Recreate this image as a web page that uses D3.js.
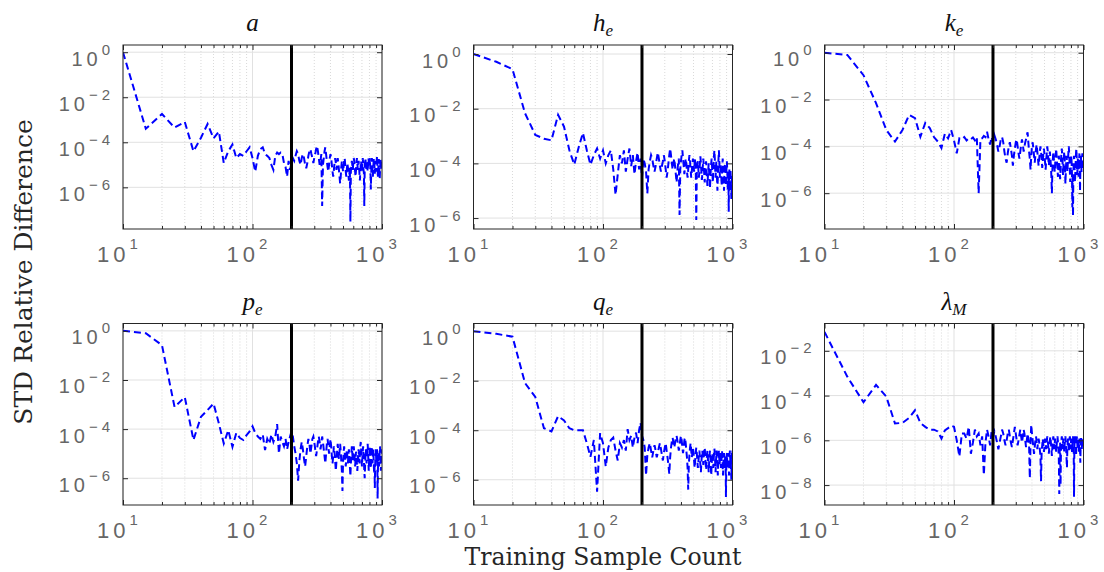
<!DOCTYPE html>
<html>
<head>
<meta charset="utf-8">
<script src="https://cdn.jsdelivr.net/npm/d3@7"></script>
<style>
  body { margin: 0; background: #fff; }
</style>
</head>
<body>
<svg id="chart"></svg>
<script>
const width = 1104;
const height = 572;

// training sample counts (x)
const sampleCounts = [
  10, 15, 20, 25, 30, 35, 40, 45, 50, 55, 60, 65, 70, 75, 80, 85, 90, 95, 100, 105,
  110, 115, 120, 125, 130, 135, 140, 145, 150, 155, 160, 165, 170, 175, 180, 185, 190, 195, 200, 205,
  210, 215, 220, 225, 230, 235, 240, 245, 250, 255, 260, 265, 270, 275, 280, 285, 290, 295, 300, 305,
  310, 315, 320, 325, 330, 335, 340, 345, 350, 355, 360, 365, 370, 375, 380, 385, 390, 395, 400, 405,
  410, 415, 420, 425, 430, 435, 440, 445, 450, 455, 460, 465, 470, 475, 480, 485, 490, 495, 500, 505,
  510, 515, 520, 525, 530, 535, 540, 545, 550, 555, 560, 565, 570, 575, 580, 585, 590, 595, 600, 605,
  610, 615, 620, 625, 630, 635, 640, 645, 650, 655, 660, 665, 670, 675, 680, 685, 690, 695, 700, 705,
  710, 715, 720, 725, 730, 735, 740, 745, 750, 755, 760, 765, 770, 775, 780, 785, 790, 795, 800, 805,
  810, 815, 820, 825, 830, 835, 840, 845, 850, 855, 860, 865, 870, 875, 880, 885, 890, 895, 900, 905,
  910, 915, 920, 925, 930, 935, 940, 945, 950, 955, 960, 965, 970, 975, 980, 985, 990, 995, 1000
];

const aVals = [
  1, 4e-4, 1.8e-3, 4.5e-4, 8e-4, 4e-5, 1.6e-4, 6.5e-4, 1.5e-4, 3e-4,
  1.2e-5, 4e-5, 8e-5, 2e-5, 3e-5, 2.5e-5, 4e-5, 6e-5, 2e-5, 5e-6,
  2.5e-5, 5e-5, 6e-5, 3e-5, 2.5e-5, 2e-5, 1e-5, 6e-6, 2.5e-5, 3.5e-5,
  3e-5, 3.5e-5, 3e-5, 1.2e-5, 8e-6, 3e-6, 1.5e-5, 6e-6, 1.2e-5,
  2e-5, 1.5e-5, 2.5e-5, 4e-5, 3e-5, 1.5e-5, 1e-5, 2e-5, 3e-5, 2e-5,
  1e-5, 7e-6, 1.2e-5, 2.5e-5, 4e-5, 5e-5, 3e-5, 2e-5, 1.2e-5, 2e-5,
  3e-5, 5e-5, 7e-5, 4e-5, 2e-5, 1e-5, 1.5e-5, 3e-5, 1.5e-7, 1e-5,
  2e-5, 4e-5, 6e-5, 3e-5, 1.5e-5, 8e-6, 5e-6, 1e-5, 2e-5, 3e-5,
  2e-5, 1e-5, 5e-6, 3e-6, 6e-6, 1.2e-5, 2e-5, 1.2e-5, 6e-6, 1e-5,
  2e-5, 1.2e-5, 6e-6, 3e-6, 1.5e-6, 3e-6, 8e-6, 1.5e-5, 1e-5, 5e-6,
  8e-6, 1.5e-5, 2e-5, 1e-5, 5e-6, 3e-6, 6e-6, 1.2e-5, 8e-6, 4e-6,
  2e-6, 4e-6, 8e-6, 3e-8, 5e-6, 1e-5, 1.5e-5, 1e-5, 6e-6, 1.2e-5,
  2e-5, 1.5e-5, 8e-6, 5e-6, 3e-6, 6e-6, 1.2e-5, 2e-5, 1.2e-5, 6e-6,
  1e-5, 1.5e-5, 8e-6, 4e-6, 2e-6, 5e-6, 1e-5, 1.5e-5, 8e-6, 5e-6,
  1e-5, 2e-5, 1.2e-5, 6e-6, 4e-6, 1.5e-7, 6e-6, 1.2e-5, 2e-5, 1e-5,
  6e-6, 1e-5, 1.5e-5, 8e-6, 5e-6, 1e-5, 2e-5, 1.5e-5, 8e-6, 1.2e-5,
  2e-5, 1e-5, 5e-6, 8e-7, 4e-6, 1e-5, 2e-5, 1.2e-5, 6e-6, 3e-6,
  6e-6, 1.2e-5, 2e-5, 1.5e-5, 8e-6, 4e-6, 8e-6, 1.5e-5, 1e-5, 5e-6,
  8e-6, 1.5e-5, 2.5e-5, 1.2e-5, 6e-6, 3e-6, 6e-6, 1.2e-5, 1.8e-5, 1e-5,
  5e-6, 2.5e-6, 5e-6, 1e-5, 2e-5, 1.2e-5, 6e-6, 1e-5, 1.5e-5, 1e-5
];

const heVals = [
  1, 0.52, 0.28, 6.8e-3, 1.1e-3, 8e-4, 7e-4, 6e-3, 2.2e-3, 3e-4,
  9e-5, 4e-4, 1.3e-3, 3e-4, 9e-5, 2e-4, 3.5e-4, 1.5e-4, 3e-4, 1e-4,
  2e-4, 3e-4, 6e-5, 7e-6, 4e-5, 2e-4, 1e-4, 3e-4, 5e-5, 1.5e-4,
  3.5e-4, 8e-5, 2e-4, 4e-5, 1.2e-4, 2.5e-4, 6e-5, 1.5e-4, 3e-5,
  1.5e-4, 1e-4, 5e-5, 8e-6, 6e-5, 1.2e-4, 2e-4, 1.5e-4, 8e-5, 5e-5,
  8e-5, 1.5e-4, 2.5e-4, 1.5e-4, 8e-5, 5e-5, 8e-5, 1.2e-4, 2e-4, 1.2e-4,
  6e-5, 3e-5, 5e-5, 1e-4, 2e-4, 3.5e-4, 2e-4, 1e-4, 6e-5, 1e-4,
  1.5e-4, 8e-5, 4e-5, 2e-5, 5e-5, 1e-4, 1.5e-4, 1.3e-6, 6e-5, 1.2e-4,
  2e-4, 3e-4, 1.5e-4, 8e-5, 4e-5, 8e-5, 1.5e-4, 1e-4, 5e-5, 3e-5,
  6e-5, 1.2e-4, 2e-4, 1.2e-4, 6e-5, 3e-5, 5e-5, 1e-4, 1.5e-4, 8e-5,
  5e-5, 1e-4, 1.5e-4, 8e-5, 8.5e-7, 4e-5, 8e-5, 1.2e-4, 6e-5, 3e-5,
  5e-5, 1e-4, 1.8e-4, 1e-4, 5e-5, 2.5e-5, 4e-5, 8e-5, 1.5e-4, 8e-5,
  4e-5, 2e-5, 4e-5, 8e-5, 1.2e-4, 6e-5, 3e-5, 1.5e-5, 3e-5, 6e-5,
  1e-4, 5e-5, 2.5e-5, 1.2e-5, 3e-5, 6e-5, 1e-4, 1.5e-4, 8e-5, 4e-5,
  2e-5, 5e-5, 1e-4, 2e-4, 3e-4, 1.5e-4, 6e-5, 3e-5, 6e-5, 1.2e-4,
  6e-5, 2.5e-5, 1e-5, 3e-5, 8e-5, 1.5e-4, 3e-4, 1.5e-4, 6e-5, 3e-5,
  5e-5, 1e-4, 6e-5, 3e-5, 1.5e-5, 4e-5, 8e-5, 1.5e-4, 8e-5, 4e-5,
  2e-5, 1e-5, 3e-5, 6e-5, 1e-4, 6e-5, 3e-5, 1.5e-5, 4e-5, 8e-5,
  1.2e-4, 6e-5, 3e-5, 1e-5, 2.5e-5, 5e-5, 1.7e-6, 3e-5, 6e-5, 2.5e-5,
  1e-5, 3e-5, 6e-5, 3e-5, 1.2e-5, 5e-6, 1.5e-5, 4e-5, 2e-5, 8e-6
];

const keVals = [
  1, 0.8, 0.11, 7e-3, 5e-4, 1.6e-4, 5e-4, 2.2e-3, 1.6e-3, 2.6e-4,
  1e-3, 6e-4, 2.5e-4, 1.6e-4, 8.5e-5, 3.5e-4, 2.2e-4, 5e-4, 1.8e-4, 5e-5,
  2.2e-4, 2e-4, 2.5e-4, 1.8e-4, 2.2e-4, 2e-4, 2.4e-4, 1.8e-4, 2.5e-4, 1e-6,
  2e-4, 2.2e-4, 2.8e-4, 2.5e-4, 4.2e-4, 2e-4, 1.2e-4, 2.5e-4, 1.5e-4,
  3e-4, 2e-4, 1.2e-4, 6e-5, 1e-4, 2e-4, 2.5e-4, 1.5e-4, 6e-5, 3e-5,
  2e-5, 5e-5, 1e-4, 1.5e-4, 8e-5, 4e-5, 1.5e-5, 4e-5, 8e-5, 1.5e-4,
  2e-4, 1e-4, 5e-5, 3e-5, 6e-5, 1.2e-4, 2e-4, 1.2e-4, 6e-5, 1e-4,
  1.5e-4, 2e-4, 3e-4, 4e-4, 1.5e-4, 6e-5, 3e-5, 1e-5, 4e-5, 1e-4,
  1.5e-4, 8e-5, 4e-5, 2e-5, 4e-5, 8e-5, 1.2e-4, 6e-5, 3e-5, 1.5e-5,
  3e-5, 6e-5, 1e-4, 6e-5, 3e-5, 1.2e-5, 2.5e-5, 5e-5, 8e-5, 4e-5,
  2e-5, 1e-5, 2.5e-5, 5e-5, 1e-4, 6e-5, 3e-5, 1.5e-5, 3e-5, 6e-5,
  3e-5, 1.5e-5, 5e-6, 1e-6, 1e-5, 3e-5, 6e-5, 3e-5, 1.5e-5, 8e-6,
  2e-5, 4e-5, 8e-5, 4e-5, 2e-5, 1e-5, 5e-6, 1.5e-5, 4e-5, 2e-5,
  8e-6, 4e-6, 1e-5, 2.5e-5, 5e-5, 8e-5, 4e-5, 1.5e-5, 6e-6, 1.5e-5,
  3e-5, 6e-5, 3e-5, 1.2e-5, 2.5e-6, 8e-6, 2e-5, 4e-5, 2e-5, 8e-6,
  1.5e-5, 3e-5, 6e-5, 1e-4, 5e-5, 2e-5, 8e-6, 3e-6, 8e-6, 2e-5,
  4e-5, 2e-5, 6e-6, 2.5e-7, 5e-6, 1e-7, 8e-6, 2e-5, 4e-5, 2e-5,
  8e-6, 3e-6, 8e-6, 2e-5, 5e-5, 8e-5, 4e-5, 1.5e-5, 6e-6, 1.5e-5,
  3e-5, 1.5e-5, 5e-6, 1e-5, 2.5e-5, 5e-5, 2e-5, 1.2e-6, 8e-6, 2e-5,
  4e-5, 2e-5, 8e-6, 1.5e-5, 3e-5, 5e-5, 2.5e-5, 1.2e-5, 2e-5, 2.5e-5
];

const peVals = [
  1, 0.8, 0.26, 8e-4, 2e-3, 3.6e-5, 3.2e-4, 6e-4, 1.1e-3, 1.7e-4,
  2.6e-5, 9e-5, 1.9e-5, 7e-5, 4.3e-5, 3.6e-5, 5.7e-5, 8e-5, 1.3e-4, 7e-5,
  5e-5, 4e-5, 6e-5, 1.4e-5, 4e-5, 2.5e-5, 6e-5, 3e-5, 5e-5, 1.6e-4,
  1e-5, 5e-5, 3e-5, 2e-5, 4e-5, 1.5e-5, 3e-5, 5e-5, 8e-5,
  5e-5, 2e-5, 1e-5, 4e-6, 8e-7, 5e-6, 1.5e-5, 3e-5, 1.5e-5, 6e-6,
  3e-6, 8e-6, 2e-5, 4e-5, 2.5e-5, 1e-5, 2e-5, 4e-5, 5e-5, 3e-5,
  1.5e-5, 8e-6, 1.5e-5, 3e-5, 5e-5, 3e-5, 1.5e-5, 2.5e-5, 5e-5, 3e-5,
  1.5e-5, 8e-6, 4e-6, 1e-5, 2.5e-5, 4e-5, 2e-5, 1e-5, 2e-5, 4e-5,
  2e-5, 8e-6, 4e-6, 8e-6, 2e-5, 1.2e-5, 5e-6, 2e-6, 5e-6, 1.2e-5,
  2.5e-5, 1.2e-5, 6e-6, 1.2e-5, 2.5e-5, 1.2e-5, 5e-6, 2e-6, 3e-7, 4e-6,
  1e-5, 2e-5, 1.2e-5, 6e-6, 3e-6, 6e-6, 1.5e-5, 8e-6, 4e-6, 8e-6,
  1.5e-5, 8e-6, 3e-6, 1.2e-6, 4e-6, 1e-5, 2e-5, 1e-5, 5e-6, 1e-5,
  2e-5, 1.2e-5, 6e-6, 3e-6, 6e-6, 1.2e-5, 8e-6, 4e-6, 2e-6, 5e-6,
  1e-5, 1.5e-5, 8e-6, 4e-6, 1e-5, 2e-5, 3e-5, 1.5e-5, 6e-6, 3e-6,
  6e-6, 1.2e-5, 2e-5, 1e-5, 5e-6, 2e-6, 1e-6, 3e-6, 8e-6, 1.5e-5,
  8e-6, 4e-6, 8e-6, 1.5e-5, 2.5e-5, 1.2e-5, 5e-6, 2e-6, 5e-6, 1e-5,
  2e-5, 1e-5, 5e-6, 2.5e-6, 6e-6, 1.2e-5, 2e-5, 1e-5, 4e-6, 8e-6,
  1.5e-5, 8e-6, 3e-6, 1.5e-6, 4e-6, 4e-7, 3e-6, 8e-6, 1.5e-5, 8e-6,
  4e-6, 8e-6, 1.5e-5, 6e-6, 1.5e-7, 2e-6, 6e-6, 1.2e-5, 6e-6, 3e-6,
  6e-6, 1.2e-5, 2e-5, 1e-5, 5e-6, 2e-6, 5e-6, 1e-5, 1.5e-5, 1e-5
];

const qeVals = [
  1, 0.78, 0.6, 8e-3, 2.2e-3, 1.2e-4, 9e-5, 3.7e-4, 2.5e-4, 1.2e-4,
  1e-4, 1e-4, 1e-4, 3e-5, 8.5e-6, 4e-5, 3.3e-7, 7.6e-5, 3e-5, 3.4e-6,
  2e-5, 4e-5, 5e-5, 1.5e-5, 6e-6, 3e-5, 2e-5, 4e-5, 1.5e-5, 1.1e-4,
  4e-5, 6e-5, 2e-5, 5e-5, 8e-5, 3e-5, 1e-4, 2e-4, 6e-5,
  4e-5, 2e-5, 1.5e-6, 1e-5, 2e-5, 3e-5, 1.5e-5, 8e-6, 1.5e-5, 2.5e-5,
  1.5e-5, 8e-6, 1.2e-5, 2e-5, 3e-5, 1.8e-5, 1e-5, 6e-6, 1.2e-5, 2e-5,
  3e-5, 1.5e-5, 8e-6, 4e-6, 1.7e-6, 8e-6, 2e-5, 3.5e-5, 5e-5, 3e-5,
  2e-5, 3e-5, 5e-5, 6e-5, 4e-5, 2.5e-5, 1.5e-5, 2.5e-5, 4e-5, 6e-5,
  4e-5, 2e-5, 1.2e-5, 2e-5, 4e-5, 5e-5, 3e-5, 1.5e-5, 8e-6, 3e-6,
  4e-7, 4e-6, 1e-5, 2e-5, 3e-5, 1.5e-5, 8e-6, 1.2e-5, 2e-5, 1.2e-5,
  6e-6, 3e-6, 6e-6, 1.2e-5, 2e-5, 1.2e-5, 6e-6, 3e-6, 5e-6, 1e-5,
  1.5e-5, 8e-6, 4e-6, 2e-6, 5e-6, 1e-5, 1.5e-5, 8e-6, 4e-6, 8e-6,
  1.5e-5, 2e-5, 1e-5, 5e-6, 2.5e-6, 5e-6, 1e-5, 1.5e-5, 8e-6, 4e-6,
  2e-6, 5e-6, 1e-5, 1.5e-5, 8e-6, 4e-6, 1.5e-6, 4e-6, 8e-6, 1.2e-5,
  6e-6, 3e-6, 6e-6, 1.2e-5, 1.8e-5, 1e-5, 5e-6, 2e-6, 5e-6, 1e-5,
  1.5e-5, 8e-6, 4e-6, 1.5e-6, 4e-6, 8e-6, 1.5e-5, 8e-6, 4e-6, 8e-6,
  1.2e-5, 6e-6, 3e-6, 6e-6, 1.2e-5, 1.5e-5, 8e-6, 3e-6, 1.5e-6, 4e-6,
  8e-6, 1.2e-5, 6e-6, 3e-6, 6e-6, 1e-5, 5e-6, 2e-7, 3e-6, 8e-6,
  1.2e-5, 6e-6, 3e-6, 6e-6, 1.2e-5, 8e-6, 4e-6, 1.5e-6, 4e-6, 1e-5,
  1.5e-5, 8e-6, 4e-6, 8e-6, 2e-6, 1e-6, 5e-6, 1.2e-5, 6e-6, 1.5e-5
];

const lamVals = [
  0.07, 7e-4, 5e-5, 3e-4, 9e-5, 5.7e-6, 6e-6, 1e-5, 2.2e-5, 6e-6,
  4e-6, 3e-6, 3e-6, 2.5e-6, 1.2e-6, 2.8e-6, 3.5e-6, 4.5e-6, 4e-6, 1e-6,
  1.9e-7, 2e-6, 2e-6, 1.2e-6, 4e-6, 2.5e-7, 8e-7, 3e-6, 1.5e-6, 2e-6,
  6e-7, 1.5e-6, 2.8e-8, 8e-7, 3e-6, 1.5e-6, 6e-7, 2.5e-6, 1.5e-6,
  2.5e-6, 1.5e-6, 8e-7, 4e-7, 8e-7, 1.5e-6, 3e-6, 2e-6, 1e-6, 6e-7,
  1e-6, 2e-6, 3e-6, 1.5e-6, 8e-7, 5e-7, 1e-6, 2e-6, 4e-6, 2e-6,
  1e-6, 6e-7, 1e-6, 1.8e-6, 3e-6, 1.5e-6, 8e-7, 1.5e-6, 3e-6, 2e-6,
  1e-6, 5e-7, 1e-6, 2e-6, 1.2e-6, 6e-7, 2e-8, 8e-7, 5e-6, 2e-6,
  1e-6, 5e-7, 2.5e-7, 5e-7, 1e-6, 1.5e-6, 8e-7, 4e-7, 8e-7, 1.2e-6,
  8e-7, 4e-7, 2e-7, 1.5e-8, 3e-7, 6e-7, 1.2e-6, 6e-7, 3e-7, 6e-7,
  1.2e-6, 8e-7, 4e-7, 8e-7, 1.5e-6, 1e-6, 5e-7, 2.5e-7, 6e-7, 1e-6,
  1.5e-6, 8e-7, 4e-7, 2e-7, 5e-7, 1e-6, 1.5e-6, 8e-7, 4e-7, 8e-7,
  1.2e-6, 6e-7, 3e-7, 6e-7, 1e-6, 1.5e-6, 8e-7, 4e-7, 1.5e-7, 4e-9,
  3e-7, 8e-7, 1e-8, 4e-7, 1e-6, 1.5e-6, 8e-7, 4e-7, 8e-7, 1.2e-6,
  6e-7, 3e-7, 6e-7, 1e-6, 1.5e-6, 8e-7, 4e-7, 1.5e-7, 6e-8, 4e-7,
  8e-7, 1.2e-6, 6e-7, 3e-7, 6e-7, 1.2e-6, 1.5e-6, 8e-7, 4e-7, 8e-7,
  1.2e-6, 6e-7, 3e-7, 6e-7, 1e-6, 1.5e-6, 8e-7, 3e-7, 3e-9, 5e-7,
  1e-6, 1.5e-6, 8e-7, 4e-7, 2e-7, 5e-7, 1e-6, 1.5e-6, 8e-7, 4e-7,
  8e-7, 1.2e-6, 6e-7, 3e-7, 6e-7, 1.2e-6, 8e-7, 4e-7, 1e-7, 5e-7,
  1e-6, 1.5e-6, 8e-7, 4e-7, 8e-7, 1.2e-6, 8e-7, 5e-7, 8e-7, 1e-6
];

const series = [aVals, heVals, keVals, peVals, qeVals, lamVals];
const titleMain = ['a', 'h', 'k', 'p', 'q', 'λ'];
const titleSub = ['', 'e', 'e', 'e', 'e', 'M'];
// y limits as powers of ten, and labelled decades
const yLow = [-7.85, -6.4, -7.53, -7.09, -7.02, -8.89];
const yHigh = [0.32, 0.33, 0.33, 0.3, 0.31, -0.78];
const yTickExps = [
  [-6, -4, -2, 0], [-6, -4, -2, 0], [-6, -4, -2, 0],
  [-6, -4, -2, 0], [-6, -4, -2, 0], [-8, -6, -4, -2]
];
const xMajor = [10, 100, 1000];
const xMinor = [20, 30, 40, 50, 60, 70, 80, 90, 200, 300, 400, 500, 600, 700, 800, 900];
const cutoff = 200;

// layout
const colLeft = [123, 473.5, 824.5];
const rowTop = [45, 323.5];
const plotW = 259;
const plotH = [184, 181.5];

const svg = d3.select('#chart')
  .attr('width', width)
  .attr('height', height)
  .style('font-family', '"DejaVu Sans", sans-serif');

const axisColor = '#262626';
const labelColor = '#666';

function expText(e) {
  return e < 0 ? '\u2212' + (-e) : String(e);
}

series.forEach((vals, i) => {
  const col = i % 3;
  const row = Math.floor(i / 3);
  const w = plotW, h = plotH[row];
  const g = svg.append('g')
    .attr('transform', `translate(${colLeft[col]},${rowTop[row]})`);

  const x = d3.scaleLog().domain([10, 1000]).range([0, w]);
  const y = d3.scaleLog().domain([10 ** yLow[i], 10 ** yHigh[i]]).range([h, 0]);
  const yTicks = yTickExps[i].map(e => 10 ** e);

  // grid
  g.append('g').selectAll('line').data(xMinor).join('line')
    .attr('x1', d => x(d)).attr('x2', d => x(d))
    .attr('y1', 0).attr('y2', h)
    .attr('stroke', '#cfcfcf').attr('stroke-width', 0.8)
    .attr('stroke-dasharray', '1,2');
  g.append('g').selectAll('line').data(xMajor).join('line')
    .attr('x1', d => x(d)).attr('x2', d => x(d))
    .attr('y1', 0).attr('y2', h)
    .attr('stroke', '#e1e1e1');
  g.append('g').selectAll('line').data(yTicks).join('line')
    .attr('x1', 0).attr('x2', w)
    .attr('y1', d => y(d)).attr('y2', d => y(d))
    .attr('stroke', '#e1e1e1');

  // data
  const clipId = 'clip' + i;
  g.append('clipPath').attr('id', clipId)
    .append('rect').attr('width', w).attr('height', h);

  const line = d3.line()
    .x((d, k) => x(sampleCounts[k]))
    .y(d => y(d));

  g.append('path')
    .datum(vals)
    .attr('clip-path', `url(#${clipId})`)
    .attr('fill', 'none')
    .attr('stroke', '#0000ff')
    .attr('stroke-width', 2)
    .attr('stroke-dasharray', '7,4')
    .attr('d', line);

  // training cutoff
  g.append('line')
    .attr('x1', x(cutoff)).attr('x2', x(cutoff))
    .attr('y1', 0).attr('y2', h)
    .attr('stroke', '#000').attr('stroke-width', 3);

  // axes, ticks inside
  const bottom = g.append('g').attr('transform', `translate(0,${h})`)
    .call(d3.axisBottom(x).tickValues(xMajor).tickSizeInner(-5).tickSizeOuter(0));
  g.append('g').attr('transform', `translate(0,${h})`)
    .call(d3.axisBottom(x).tickValues(xMinor).tickSizeInner(-3).tickSizeOuter(0).tickFormat(''));
  g.append('g')
    .call(d3.axisTop(x).tickValues(xMajor).tickSizeInner(-5).tickSizeOuter(0).tickFormat(''));
  g.append('g')
    .call(d3.axisTop(x).tickValues(xMinor).tickSizeInner(-3).tickSizeOuter(0).tickFormat(''));
  const left = g.append('g')
    .call(d3.axisLeft(y).tickValues(yTicks).tickSizeInner(-5).tickSizeOuter(0));
  g.append('g').attr('transform', `translate(${w},0)`)
    .call(d3.axisRight(y).tickValues(yTicks).tickSizeInner(-5).tickSizeOuter(0).tickFormat(''));

  g.selectAll('.domain').remove();
  g.selectAll('.tick line').attr('stroke', axisColor);

  bottom.selectAll('.tick text')
    .attr('y', 33).attr('dy', 0).attr('x', -4)
    .attr('fill', labelColor)
    .attr('font-size', 22)
    .attr('font-weight', 200)
    .attr('letter-spacing', 4)
    .each(function (d) {
      const t = d3.select(this);
      t.text(null);
      t.append('tspan').text('10');
      t.append('tspan').attr('dy', -13).attr('font-size', 15)
        .text(expText(Math.round(Math.log10(d))));
    });

  left.selectAll('.tick text')
    .attr('x', -9).attr('dy', 13)
    .attr('fill', labelColor)
    .attr('font-size', 20)
    .attr('font-weight', 200)
    .attr('letter-spacing', 4)
    .each(function (d) {
      const t = d3.select(this);
      t.text(null);
      t.append('tspan').text('10');
      t.append('tspan').attr('dy', -11).attr('font-size', 15)
        .text(expText(Math.round(Math.log10(d))));
    });

  // box
  g.append('rect')
    .attr('width', w).attr('height', h)
    .attr('fill', 'none')
    .attr('stroke', axisColor)
    .attr('stroke-width', 1);

  // title
  const title = g.append('text')
    .attr('x', w / 2).attr('y', -14)
    .attr('text-anchor', 'middle')
    .attr('font-family', '"Liberation Serif", serif')
    .attr('font-style', 'italic')
    .attr('font-size', 25)
    .attr('fill', '#111');
  title.append('tspan').text(titleMain[i]);
  if (titleSub[i]) {
    title.append('tspan').attr('dy', 5).attr('font-size', 17).text(titleSub[i]);
  }
});

// axis labels
svg.append('text')
  .attr('transform', 'translate(32,272) rotate(-90)')
  .attr('text-anchor', 'middle')
  .attr('font-family', '"DejaVu Serif", serif')
  .attr('font-size', 25)
  .attr('fill', '#262626')
  .text('STD Relative Difference');

svg.append('text')
  .attr('x', 603).attr('y', 565)
  .attr('text-anchor', 'middle')
  .attr('font-family', '"DejaVu Serif", serif')
  .attr('font-size', 23.5)
  .attr('fill', '#262626')
  .text('Training Sample Count');
</script>
</body>
</html>
